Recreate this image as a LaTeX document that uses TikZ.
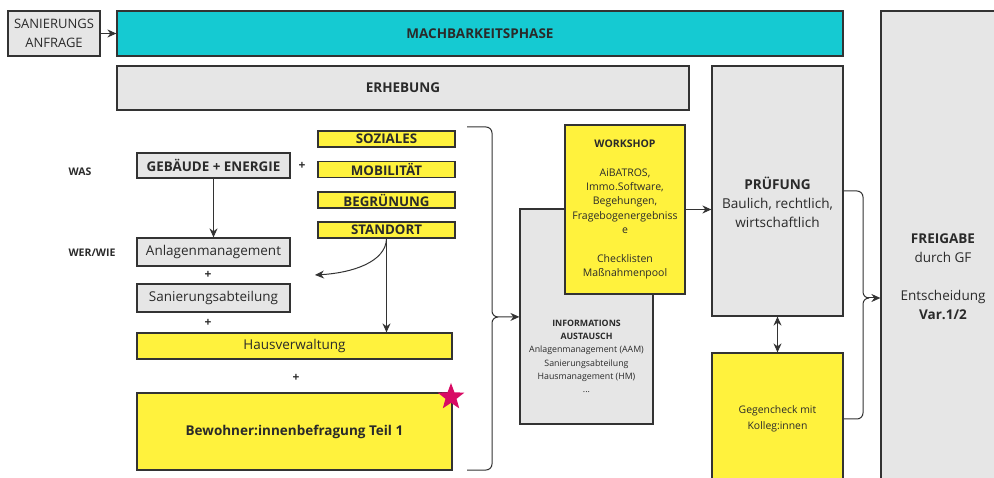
\documentclass[tikz,border=0pt]{standalone}
\usepackage{fontspec}
\setmainfont{Open Sans}
\usetikzlibrary{shapes.geometric,arrows.meta}
\definecolor{linec}{HTML}{333333}
\definecolor{txt}{HTML}{2A2A2A}
\definecolor{boxgrey}{HTML}{E6E6E6}
\definecolor{boxyellow}{HTML}{FFF23D}
\definecolor{boxteal}{HTML}{15CAD2}
\definecolor{starred}{HTML}{D80B64}
\newcommand\fsz[2]{\fontsize{#1}{#2}\selectfont}

\tikzset{
  box/.style={draw=linec, line width=1.2pt, inner sep=0pt, align=center, text=txt},
  greybox/.style={box, fill=boxgrey},
  yellowbox/.style={box, fill=boxyellow},
  topic/.style={yellowbox, minimum width=137pt, minimum height=16pt, font=\bfseries\fsz{13.3}{15}},
  tagtxt/.style={text=txt, inner sep=0pt, align=center},
  conn/.style={draw=linec, line width=1pt},
}

\begin{document}
\begin{tikzpicture}[x=1pt,y=-1pt,>={Stealth[length=9pt,width=8pt]}]
\useasboundingbox (0,0) rectangle (994,478);
\clip (0,0) rectangle (994,478);

% top row
\node[greybox, minimum width=92pt, minimum height=45pt, font=\fsz{13}{19}] (anfrage) at (54,33.5) {SANIERUNGS\\ANFRAGE};
\node[box, fill=boxteal, minimum width=726pt, minimum height=45pt, font=\bfseries\fsz{13.5}{15}] (machbar) at (480,33.5) {MACHBARKEITSPHASE};
\node[greybox, minimum width=572pt, minimum height=44pt, font=\bfseries\fsz{13.5}{15}] (erhebung) at (403,88) {ERHEBUNG};
\draw[conn,->] (anfrage) -- (machbar);

% was / wer / wie
\node[tagtxt, font=\bfseries\fsz{10.5}{12}] (was) at (80,172) {WAS};
\node[tagtxt, font=\bfseries\fsz{10.5}{12}] (werwie) at (92,253) {WER/WIE};
\node[greybox, minimum width=153pt, minimum height=25pt, font=\bfseries\fsz{13.4}{15}] (gebaeude) at (213.5,165.5) {GEBÄUDE + ENERGIE};
\node[tagtxt, font=\bfseries\fsz{12}{13}] (plusa) at (302,166) {+};
\node[topic] (soziales) at (386.5,139) {SOZIALES};
\node[topic] (mobil) at (386.5,169.5) {MOBILITÄT};
\node[topic] (gruen) at (386.5,200) {BEGRÜNUNG};
\node[topic] (standort) at (386.5,230) {STANDORT};

\node[greybox, minimum width=153pt, minimum height=28pt, font=\fsz{13.5}{15}] (anlagen) at (213.5,252) {Anlagenmanagement};
\node[tagtxt, font=\bfseries\fsz{12}{13}] (plusb) at (208,275) {+};
\node[greybox, minimum width=153pt, minimum height=28pt, font=\fsz{13.5}{15}] (sanierung) at (213.5,298) {Sanierungsabteilung};
\node[tagtxt, font=\bfseries\fsz{12}{13}] (plusc) at (208,323) {+};
\node[yellowbox, minimum width=315pt, minimum height=26pt, font=\fsz{13.5}{15}] (hausverw) at (294.5,346) {Hausverwaltung};
\node[tagtxt, font=\bfseries\fsz{12}{13}] (plusd) at (296,378) {+};
\node[yellowbox, minimum width=315pt, minimum height=77pt, font=\bfseries\fsz{13.5}{15}] (bewohner) at (294.5,431.5) {Bewohner:innenbefragung Teil 1};
\node[star, star points=5, star point ratio=2.4, fill=starred, inner sep=0pt, minimum size=28pt] (stern) at (451,397) {};

\draw[conn,->] (gebaeude) -- (anlagen);
\coordinate (kurve) at (315,275);
\draw[conn,->] (standort.south) .. controls (386,262) and (352,273) .. (kurve);
\draw[conn,->] (standort.south) -- (standort.south |- hausverw.north);

% klammer links
\coordinate (spitze) at (498,317);
\draw[conn, rounded corners=6pt] (467,127) -| (492,317) -- (spitze);
\draw[conn, rounded corners=6pt] (467,470) -| (492,317) -- (spitze);

% info + workshop
\node[greybox, minimum width=133pt, minimum height=215pt] (info) at (586.5,316.5) {};
\node[tagtxt, font=\fsz{8.8}{13.3}] (infotxt) at (586.5,356.5) {\textbf{INFORMATIONS}\\\textbf{AUSTAUSCH}\\Anlagenmanagement (AAM)\\Sanierungsabteilung\\Hausmanagement (HM)\\...};
\draw[conn,->] (spitze) -- (info);
\node[yellowbox, minimum width=120pt, minimum height=169pt, font=\fsz{10.5}{14.3}] (workshop) at (625,209.5) {\textbf{WORKSHOP}\\[14.3pt]AiBATROS,\\Immo.Software,\\Begehungen,\\Fragebogenergebniss\\e\\[14.3pt]Checklisten\\Maßnahmenpool};

% pruefung
\node[greybox, minimum width=131pt, minimum height=250pt] (pruefung) at (777.5,191) {};
\node[tagtxt, font=\fsz{13.6}{19}] (prtxt) at (777.5,202) {\textbf{PRÜFUNG}\\Baulich, rechtlich,\\wirtschaftlich};
\draw[conn,->] (workshop.east) -- (workshop.east -| pruefung.west);
\node[yellowbox, minimum width=131pt, minimum height=132pt, font=\fsz{10.4}{16}] (gegencheck) at (777.5,419) {Gegencheck mit\\Kolleg:innen};
\draw[conn,<->] (pruefung) -- (gegencheck);

% freigabe
\node[greybox, minimum width=124pt, minimum height=532pt] (freigabe) at (943,277) {};
\node[tagtxt, font=\fsz{13.5}{19}] (fgtxt) at (943,277) {\textbf{FREIGABE}\\durch GF\\[19pt]Entscheidung\\\textbf{Var.1/2}};

% klammer rechts
\coordinate (spitzeb) at (868,298);
\draw[conn, rounded corners=6pt] (pruefung.east) -| (863,298) -- (spitzeb);
\draw[conn, rounded corners=6pt] (gegencheck.east) -| (863,298) -- (spitzeb);
\draw[conn,->] (spitzeb) -- (spitzeb -| freigabe.west);
\end{tikzpicture}
\end{document}
